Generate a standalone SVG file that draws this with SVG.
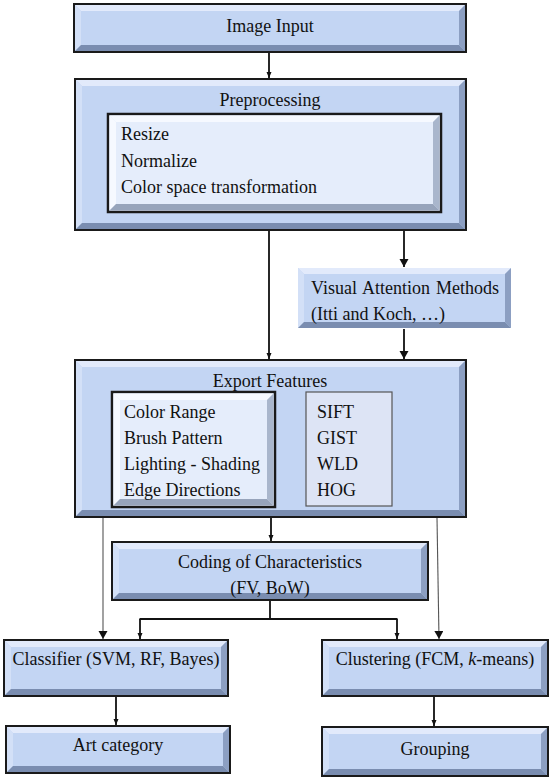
<svg xmlns="http://www.w3.org/2000/svg" width="550" height="780" viewBox="0 0 550 780">
<defs>
<style>
text{font-family:"Liberation Serif","Times New Roman",serif;font-size:18px;fill:#111}
.c{text-anchor:middle}
.box{fill:#c3d5f3;stroke:#1a1a1a;stroke-width:2}
.inner{fill:#e5edfb;stroke:#1a1a1a;stroke-width:2.5}
.feat{fill:#dde4f5;stroke:#555;stroke-width:1.2}
.bl{fill:#e2eafb}
.bll{fill:#d3e0f7}
.br{fill:#8c9fc2}
.bb{fill:#7a8db0}
.ibl{fill:#f6f9ff}
.ibr{fill:#a9b6cc}
.ibb{fill:#97a4bb}
.ln{fill:none;stroke:#111;stroke-width:1.8}
.thin{fill:none;stroke:#555;stroke-width:1.1}
</style>
<marker id="as" markerUnits="userSpaceOnUse" markerWidth="8" markerHeight="8" refX="6" refY="3" orient="auto"><path d="M0,0.5 L6,3 L0,5.5 z" fill="#111"/></marker>
<marker id="al" markerUnits="userSpaceOnUse" markerWidth="12" markerHeight="12" refX="8" refY="4.5" orient="auto"><path d="M0,0 L8,4.5 L0,9 z" fill="#111"/></marker>
<marker id="ab" markerUnits="userSpaceOnUse" markerWidth="12" markerHeight="12" refX="8" refY="4.5" orient="auto"><path d="M0,0.5 L8,4.5 L0,8.5 z" fill="#4472c4"/></marker>
</defs>

<g id="connectors">
<line class="ln" x1="269" y1="53" x2="269" y2="78" marker-end="url(#as)"/>
<line class="ln" x1="269" y1="231" x2="269" y2="359" marker-end="url(#as)"/>
<line class="ln" x1="404" y1="231" x2="404" y2="267" marker-end="url(#al)"/>
<line class="ln" x1="404" y1="329" x2="404" y2="359" marker-end="url(#al)"/>
<line class="ln" x1="271" y1="518" x2="271" y2="541" marker-end="url(#as)"/>
<line class="thin" x1="103" y1="518" x2="103" y2="639" marker-end="url(#al)"/>
<line class="thin" x1="437" y1="518" x2="439" y2="639" marker-end="url(#al)"/>
<path class="ln" d="M270,601 V619 M139.5,619 H397.5"/>
<line class="ln" x1="140" y1="619" x2="140" y2="639" marker-end="url(#as)"/>
<line class="ln" x1="397" y1="619" x2="397" y2="639" marker-end="url(#as)"/>
<line class="ln" x1="116" y1="697" x2="116" y2="725" marker-end="url(#as)"/>
<line class="ln" x1="434" y1="697" x2="434" y2="726" marker-end="url(#as)"/>
<line x1="306" y1="450" x2="277" y2="450" stroke="#4472c4" stroke-width="1.3" marker-end="url(#ab)"/>
</g>

<g id="image-input">
<rect class="box" x="74" y="4" width="392" height="48"/>
<polygon class="bl" points="75,5 465,5 459,11 81,11"/>
<polygon class="bll" points="75,5 81,11 81,45 75,51"/>
<polygon class="br" points="465,5 465,51 459,45 459,11"/>
<polygon class="bb" points="75,51 465,51 459,45 81,45"/>
<text class="c" x="270" y="32">Image Input</text>
</g>

<g id="preprocessing">
<rect class="box" x="75" y="79" width="391" height="151"/>
<polygon class="bl" points="76,80 465,80 459,86 82,86"/>
<polygon class="bll" points="76,80 82,86 82,223 76,229"/>
<polygon class="br" points="465,80 465,229 459,223 459,86"/>
<polygon class="bb" points="76,229 465,229 459,223 82,223"/>
<text class="c" x="270" y="106">Preprocessing</text>
<rect class="inner" x="108" y="114" width="333" height="98"/>
<polygon class="ibl" points="109.5,115.5 439.5,115.5 433,122 116,122"/>
<polygon class="ibl" points="109.5,115.5 116,122 116,204 109.5,210.5"/>
<polygon class="ibr" points="439.5,115.5 439.5,210.5 433,204 433,122"/>
<polygon class="ibb" points="109.5,210.5 439.5,210.5 433,204 116,204"/>
<text x="121" y="140">Resize</text>
<text x="121" y="167">Normalize</text>
<text x="121" y="193">Color space transformation</text>
</g>

<g id="visual-attention">
<rect x="298" y="268" width="213" height="60" fill="#c3d5f3"/>
<polygon class="bl" points="298,268 511,268 505,274 304,274"/>
<polygon class="bll" points="298,268 304,274 304,322 298,328"/>
<polygon class="br" points="511,268 511,328 505,322 505,274"/>
<polygon class="bb" points="298,328 511,328 505,322 304,322"/>
<text x="311" y="294" word-spacing="1.5">Visual Attention Methods</text>
<text x="311" y="320">(Itti and Koch, …)</text>
</g>

<g id="export-features">
<rect class="box" x="75" y="360" width="391" height="157"/>
<polygon class="bl" points="76,361 465,361 459,367 82,367"/>
<polygon class="bll" points="76,361 82,367 82,510 76,516"/>
<polygon class="br" points="465,361 465,516 459,510 459,367"/>
<polygon class="bb" points="76,516 465,516 459,510 82,510"/>
<text class="c" x="270" y="387">Export Features</text>
<rect class="inner" x="112" y="392" width="163" height="115"/>
<polygon class="ibl" points="113.5,393.5 273.5,393.5 267,400 120,400"/>
<polygon class="ibl" points="113.5,393.5 120,400 120,499 113.5,505.5"/>
<polygon class="ibr" points="273.5,393.5 273.5,505.5 267,499 267,400"/>
<polygon class="ibb" points="113.5,505.5 273.5,505.5 267,499 120,499"/>
<text x="124" y="418">Color Range</text>
<text x="124" y="444">Brush Pattern</text>
<text x="124" y="470">Lighting - Shading</text>
<text x="124" y="496">Edge Directions</text>
<rect class="feat" x="306" y="392" width="86" height="114"/>
<text x="317" y="418">SIFT</text>
<text x="317" y="444">GIST</text>
<text x="317" y="470">WLD</text>
<text x="317" y="496">HOG</text>
</g>

<g id="coding">
<rect class="box" x="112" y="542" width="316" height="58"/>
<polygon class="bl" points="113,543 427,543 421,549 119,549"/>
<polygon class="bll" points="113,543 119,549 119,593 113,599"/>
<polygon class="br" points="427,543 427,599 421,593 421,549"/>
<polygon class="bb" points="113,599 427,599 421,593 119,593"/>
<text class="c" x="270" y="568">Coding of Characteristics</text>
<text class="c" x="270" y="594">(FV, BoW)</text>
</g>

<g id="classifier">
<rect class="box" x="4" y="640" width="224" height="56"/>
<polygon class="bl" points="5,641 227,641 221,647 11,647"/>
<polygon class="bll" points="5,641 11,647 11,689 5,695"/>
<polygon class="br" points="227,641 227,695 221,689 221,647"/>
<polygon class="bb" points="5,695 227,695 221,689 11,689"/>
<text class="c" x="116" y="665">Classifier (SVM, RF, Bayes)</text>
</g>

<g id="clustering">
<rect class="box" x="322" y="640" width="226" height="56"/>
<polygon class="bl" points="323,641 547,641 541,647 329,647"/>
<polygon class="bll" points="323,641 329,647 329,689 323,695"/>
<polygon class="br" points="547,641 547,695 541,689 541,647"/>
<polygon class="bb" points="323,695 547,695 541,689 329,689"/>
<text class="c" x="435" y="665">Clustering (FCM, <tspan font-style="italic">k</tspan>-means)</text>
</g>

<g id="art-category">
<rect class="box" x="6" y="726" width="224" height="47"/>
<polygon class="bl" points="7,727 229,727 223,733 13,733"/>
<polygon class="bll" points="7,727 13,733 13,766 7,772"/>
<polygon class="br" points="229,727 229,772 223,766 223,733"/>
<polygon class="bb" points="7,772 229,772 223,766 13,766"/>
<text class="c" x="118" y="751">Art category</text>
</g>

<g id="grouping">
<rect class="box" x="322" y="727" width="226" height="49"/>
<polygon class="bl" points="323,728 547,728 541,734 329,734"/>
<polygon class="bll" points="323,728 329,734 329,769 323,775"/>
<polygon class="br" points="547,728 547,775 541,769 541,734"/>
<polygon class="bb" points="323,775 547,775 541,769 329,769"/>
<text class="c" x="435" y="755">Grouping</text>
</g>
</svg>
